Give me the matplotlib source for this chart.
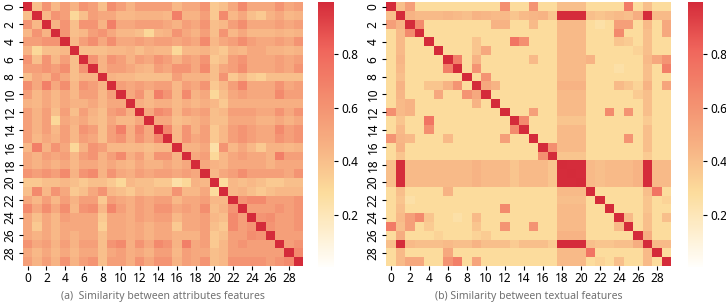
import numpy as np
import matplotlib
matplotlib.use("Agg")
import matplotlib.pyplot as plt
import seaborn as sns
from matplotlib.colors import LinearSegmentedColormap

plt.rcParams['font.family'] = ['Noto Sans', 'DejaVu Sans']

ticks = list(range(0, 30, 2))

# upper triangles (row i holds columns i..29)
attr_upper = [
    [1.0, 0.4, 0.6, 0.43, 0.55, 0.45, 0.6, 0.55, 0.4, 0.63, 0.55, 0.45, 0.55, 0.55, 0.55, 0.55, 0.43, 0.5, 0.5, 0.6, 0.36, 0.4, 0.5, 0.65, 0.5, 0.5, 0.5, 0.6, 0.5, 0.55],
    [1.0, 0.43, 0.6, 0.55, 0.3, 0.4, 0.55, 0.5, 0.5, 0.43, 0.43, 0.45, 0.45, 0.45, 0.43, 0.7, 0.45, 0.45, 0.55, 0.36, 0.65, 0.43, 0.5, 0.4, 0.36, 0.45, 0.5, 0.43, 0.45],
    [1.0, 0.45, 0.6, 0.4, 0.6, 0.6, 0.45, 0.7, 0.5, 0.5, 0.55, 0.55, 0.55, 0.5, 0.45, 0.55, 0.5, 0.6, 0.4, 0.43, 0.55, 0.63, 0.5, 0.5, 0.5, 0.55, 0.5, 0.55],
    [1.0, 0.6, 0.4, 0.43, 0.55, 0.6, 0.5, 0.43, 0.43, 0.4, 0.3, 0.43, 0.45, 0.6, 0.5, 0.45, 0.55, 0.4, 0.6, 0.43, 0.5, 0.43, 0.43, 0.43, 0.45, 0.43, 0.45],
    [1.0, 0.43, 0.55, 0.63, 0.5, 0.63, 0.5, 0.5, 0.55, 0.5, 0.55, 0.55, 0.5, 0.55, 0.5, 0.65, 0.43, 0.5, 0.55, 0.63, 0.55, 0.5, 0.5, 0.55, 0.5, 0.6],
    [1.0, 0.4, 0.4, 0.4, 0.43, 0.43, 0.45, 0.4, 0.45, 0.43, 0.43, 0.3, 0.43, 0.43, 0.45, 0.4, 0.36, 0.45, 0.43, 0.5, 0.5, 0.45, 0.45, 0.43, 0.45],
    [1.0, 0.6, 0.45, 0.6, 0.55, 0.45, 0.55, 0.5, 0.6, 0.55, 0.45, 0.55, 0.5, 0.6, 0.36, 0.4, 0.55, 0.6, 0.5, 0.5, 0.5, 0.55, 0.5, 0.55],
    [1.0, 0.45, 0.55, 0.55, 0.5, 0.45, 0.43, 0.55, 0.5, 0.6, 0.6, 0.5, 0.65, 0.4, 0.5, 0.55, 0.63, 0.5, 0.5, 0.5, 0.55, 0.5, 0.6],
    [1.0, 0.45, 0.43, 0.43, 0.4, 0.4, 0.4, 0.4, 0.55, 0.45, 0.45, 0.45, 0.4, 0.6, 0.36, 0.43, 0.36, 0.33, 0.4, 0.4, 0.4, 0.4],
    [1.0, 0.55, 0.5, 0.55, 0.5, 0.55, 0.55, 0.43, 0.55, 0.5, 0.6, 0.36, 0.43, 0.55, 0.67, 0.5, 0.5, 0.5, 0.6, 0.5, 0.55],
    [1.0, 0.5, 0.6, 0.43, 0.7, 0.6, 0.43, 0.65, 0.45, 0.5, 0.3, 0.4, 0.5, 0.55, 0.5, 0.5, 0.5, 0.65, 0.55, 0.55],
    [1.0, 0.47, 0.43, 0.47, 0.47, 0.42, 0.47, 0.43, 0.47, 0.43, 0.36, 0.47, 0.47, 0.47, 0.47, 0.47, 0.47, 0.47, 0.47],
    [1.0, 0.5, 0.65, 0.6, 0.43, 0.55, 0.5, 0.55, 0.4, 0.43, 0.55, 0.55, 0.55, 0.5, 0.5, 0.6, 0.5, 0.6],
    [1.0, 0.5, 0.5, 0.4, 0.43, 0.45, 0.5, 0.4, 0.4, 0.5, 0.5, 0.5, 0.45, 0.45, 0.5, 0.45, 0.5],
    [1.0, 0.67, 0.43, 0.6, 0.45, 0.55, 0.36, 0.43, 0.55, 0.6, 0.55, 0.5, 0.5, 0.65, 0.55, 0.6],
    [1.0, 0.43, 0.6, 0.5, 0.55, 0.36, 0.43, 0.55, 0.6, 0.55, 0.5, 0.5, 0.6, 0.55, 0.6],
    [1.0, 0.45, 0.45, 0.5, 0.25, 0.6, 0.43, 0.5, 0.43, 0.36, 0.45, 0.45, 0.43, 0.45],
    [1.0, 0.5, 0.55, 0.3, 0.43, 0.5, 0.55, 0.5, 0.5, 0.45, 0.7, 0.55, 0.55],
    [1.0, 0.5, 0.45, 0.43, 0.5, 0.5, 0.5, 0.5, 0.45, 0.5, 0.5, 0.5],
    [1.0, 0.43, 0.5, 0.55, 0.63, 0.55, 0.55, 0.55, 0.55, 0.5, 0.6],
    [1.0, 0.28, 0.43, 0.4, 0.43, 0.4, 0.36, 0.36, 0.4, 0.4],
    [1.0, 0.43, 0.45, 0.4, 0.36, 0.4, 0.43, 0.43, 0.43],
    [1.0, 0.6, 0.65, 0.65, 0.55, 0.55, 0.55, 0.6],
    [1.0, 0.55, 0.55, 0.55, 0.6, 0.55, 0.6],
    [1.0, 0.6, 0.63, 0.55, 0.55, 0.6],
    [1.0, 0.6, 0.55, 0.55, 0.6],
    [1.0, 0.55, 0.55, 0.55],
    [1.0, 0.55, 0.6],
    [1.0, 0.65],
    [1.0],
]

text_upper = [
    [1.0, 0.4, 0.55, 0.28, 0.28, 0.28, 0.28, 0.28, 0.28, 0.28, 0.28, 0.28, 0.62, 0.28, 0.28, 0.6, 0.28, 0.28, 0.4, 0.4, 0.4, 0.28, 0.28, 0.28, 0.28, 0.72, 0.28, 0.4, 0.28, 0.28],
    [1.0, 0.45, 0.42, 0.42, 0.42, 0.44, 0.42, 0.4, 0.45, 0.44, 0.42, 0.42, 0.38, 0.42, 0.44, 0.45, 0.38, 0.99, 0.99, 0.99, 0.4, 0.38, 0.4, 0.42, 0.4, 0.48, 0.99, 0.42, 0.42],
    [1.0, 0.65, 0.28, 0.28, 0.28, 0.28, 0.28, 0.28, 0.28, 0.45, 0.45, 0.28, 0.28, 0.42, 0.28, 0.28, 0.42, 0.42, 0.42, 0.28, 0.25, 0.28, 0.55, 0.55, 0.28, 0.42, 0.28, 0.5],
    [1.0, 0.28, 0.28, 0.28, 0.28, 0.28, 0.28, 0.28, 0.28, 0.28, 0.28, 0.28, 0.28, 0.28, 0.28, 0.42, 0.42, 0.42, 0.28, 0.28, 0.28, 0.65, 0.28, 0.28, 0.4, 0.28, 0.5],
    [1.0, 0.28, 0.28, 0.28, 0.28, 0.38, 0.28, 0.28, 0.28, 0.75, 0.62, 0.28, 0.28, 0.28, 0.42, 0.42, 0.42, 0.28, 0.28, 0.28, 0.38, 0.35, 0.28, 0.4, 0.28, 0.28],
    [1.0, 0.28, 0.28, 0.28, 0.38, 0.5, 0.28, 0.28, 0.28, 0.28, 0.28, 0.28, 0.28, 0.42, 0.42, 0.42, 0.28, 0.28, 0.28, 0.28, 0.28, 0.32, 0.4, 0.28, 0.28],
    [1.0, 0.7, 0.28, 0.45, 0.28, 0.28, 0.28, 0.28, 0.28, 0.42, 0.28, 0.28, 0.42, 0.42, 0.42, 0.45, 0.28, 0.28, 0.28, 0.28, 0.28, 0.42, 0.5, 0.6],
    [1.0, 0.28, 0.6, 0.28, 0.28, 0.28, 0.28, 0.28, 0.28, 0.28, 0.28, 0.42, 0.42, 0.42, 0.28, 0.28, 0.28, 0.25, 0.28, 0.28, 0.4, 0.28, 0.7],
    [1.0, 0.28, 0.6, 0.28, 0.28, 0.28, 0.28, 0.28, 0.28, 0.28, 0.42, 0.42, 0.42, 0.28, 0.28, 0.28, 0.28, 0.28, 0.28, 0.4, 0.28, 0.28],
    [1.0, 0.5, 0.45, 0.28, 0.28, 0.28, 0.28, 0.28, 0.28, 0.45, 0.45, 0.45, 0.28, 0.28, 0.28, 0.42, 0.38, 0.32, 0.45, 0.28, 0.52],
    [1.0, 0.28, 0.28, 0.28, 0.28, 0.28, 0.28, 0.28, 0.42, 0.42, 0.42, 0.28, 0.28, 0.28, 0.28, 0.28, 0.35, 0.4, 0.28, 0.28],
    [1.0, 0.28, 0.28, 0.28, 0.28, 0.28, 0.28, 0.42, 0.42, 0.42, 0.28, 0.28, 0.28, 0.28, 0.28, 0.28, 0.4, 0.28, 0.28],
    [1.0, 0.28, 0.28, 0.55, 0.28, 0.28, 0.42, 0.42, 0.42, 0.28, 0.28, 0.65, 0.28, 0.6, 0.28, 0.4, 0.28, 0.28],
    [1.0, 0.65, 0.28, 0.28, 0.28, 0.38, 0.38, 0.38, 0.28, 0.28, 0.28, 0.28, 0.28, 0.28, 0.35, 0.28, 0.28],
    [1.0, 0.28, 0.28, 0.28, 0.42, 0.42, 0.42, 0.28, 0.28, 0.28, 0.28, 0.28, 0.28, 0.4, 0.28, 0.28],
    [1.0, 0.28, 0.28, 0.42, 0.42, 0.42, 0.28, 0.28, 0.28, 0.28, 0.6, 0.28, 0.4, 0.28, 0.28],
    [1.0, 0.62, 0.42, 0.42, 0.42, 0.28, 0.28, 0.28, 0.28, 0.28, 0.28, 0.4, 0.28, 0.28],
    [1.0, 0.38, 0.38, 0.38, 0.28, 0.28, 0.28, 0.28, 0.28, 0.28, 0.35, 0.28, 0.28],
    [1.0, 0.99, 0.99, 0.42, 0.4, 0.42, 0.42, 0.42, 0.45, 0.99, 0.42, 0.42],
    [1.0, 0.99, 0.42, 0.4, 0.42, 0.42, 0.42, 0.45, 0.99, 0.42, 0.42],
    [1.0, 0.42, 0.4, 0.42, 0.42, 0.42, 0.45, 0.99, 0.42, 0.42],
    [1.0, 0.28, 0.28, 0.28, 0.28, 0.28, 0.4, 0.75, 0.28],
    [1.0, 0.28, 0.28, 0.28, 0.28, 0.38, 0.28, 0.32],
    [1.0, 0.28, 0.28, 0.28, 0.38, 0.28, 0.28],
    [1.0, 0.42, 0.28, 0.4, 0.28, 0.4],
    [1.0, 0.28, 0.4, 0.28, 0.28],
    [1.0, 0.48, 0.28, 0.28],
    [1.0, 0.42, 0.42],
    [1.0, 0.28],
    [1.0],
]

captions = ["(a)  Similarity between attributes features",
            "(b) Similarity between textual features"]


def full_matrix(upper):
    n = len(upper)
    m = np.zeros((n, n))
    for i, row in enumerate(upper):
        m[i, i:] = row
        m[i:, i] = row
    return m


cmap = LinearSegmentedColormap.from_list(
    "sim", [(0.0, "#fffefb"), (0.28, "#fcdc9c"), (0.45, "#f7b384"),
            (0.65, "#f38a6d"), (0.82, "#f0665c"), (1.0, "#d42b3a")])

fig = plt.figure(figsize=(7.26, 3.02), dpi=100)
axes = [fig.add_axes([0.0317, 0.119, 0.3857, 0.874]),
        fig.add_axes([0.5317, 0.119, 0.3926, 0.874])]
caxes = [fig.add_axes([0.438, 0.116, 0.022, 0.877]),
         fig.add_axes([0.9477, 0.116, 0.0207, 0.877])]

for ax, cax, upper, cap in zip(axes, caxes, [attr_upper, text_upper], captions):
    m = full_matrix(upper)
    sns.heatmap(m, ax=ax, cbar_ax=cax, cmap=cmap, vmin=0.005, vmax=0.995,
                xticklabels=2, yticklabels=2)
    ax.set_xticklabels(ticks, rotation=0, fontsize=8.5)
    ax.set_yticklabels(ticks, rotation=90, fontsize=8.5, va="center")
    ax.tick_params(length=3, width=0.8, pad=1.5)
    cax.tick_params(labelsize=8.5, length=3, width=0.8, pad=2)
    cax.set_yticks([0.2, 0.4, 0.6, 0.8])
    ax.set_xlabel(cap, fontsize=7.5, color="#707070", labelpad=4)

fig.savefig("out.png", dpi=100)
